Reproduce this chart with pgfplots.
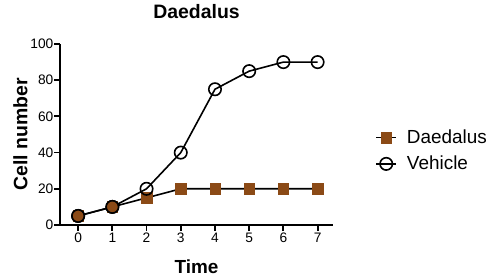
\documentclass[border=0pt]{standalone}
\usepackage{fontspec}
\setmainfont{Liberation Sans}
\usepackage{pgfplots}
\pgfplotsset{compat=1.18}
\definecolor{brn}{RGB}{139,74,22}
\begin{document}
\begin{tikzpicture}
\path[use as bounding box] (0,0) rectangle (492bp,278bp);
\begin{axis}[
  at={(60bp,53bp)}, anchor=south west,
  scale only axis, width=273bp, height=181bp,
  xmin=-0.53, xmax=7.45, ymin=0, ymax=100,
  axis x line*=bottom, axis y line*=left,
  axis line style={line width=2.2bp, -},
  xtick={0,...,7}, ytick={0,20,...,100},
  tick align=outside, major tick length=6bp,
  tick style={line width=1.8bp, black},
  /pgf/number format/assume math mode=true,
  ticklabel style={font=\fontsize{13.8}{15}\selectfont},
  xticklabel style={inner sep=1.5bp},
  yticklabel style={inner sep=0.5bp},
  title={\textbf{Daedalus}},
  title style={font=\fontsize{19.5}{21}\selectfont, anchor=center, at={(0.5,1.145)}},
  xlabel={\textbf{Time}},
  xlabel style={font=\fontsize{19}{20}\selectfont, anchor=center, at={(axis description cs:0.5,-0.23)}},
  ylabel={\textbf{Cell number}},
  ylabel style={font=\fontsize{19.5}{21}\selectfont, anchor=center, at={(axis description cs:-0.145,0.5)}},
  legend style={draw=none, fill=none, at={(1.155,0.41)}, anchor=west,
    font=\fontsize{19}{22}\selectfont, row sep=7bp, inner sep=0pt},
  legend cell align=left,
  legend image code/.code={\draw[#1, mark repeat=2, mark phase=2] plot coordinates {(0cm,0cm) (0.35cm,0cm) (0.7cm,0cm)};
    \path (0.7cm+8bp,0cm);},
  clip=false,
]
\addplot[black, line width=1.6bp, mark=square*, mark size=5.2bp,
  mark options={fill=brn, draw=brn, line width=0.5bp}]
  coordinates {(0,5) (1,10) (2,15) (3,20) (4,20) (5,20) (6,20) (7,20)};
\addlegendentry{Daedalus}
\addplot[black, line width=1.6bp, mark=o, mark size=6.2bp,
  mark options={fill=white, draw=black, line width=1.6bp}]
  coordinates {(0,5) (1,10) (2,20) (3,40) (4,75) (5,85) (6,90) (7,90)};
\addlegendentry{Vehicle}
\addplot[forget plot, only marks, mark=*, mark size=6.2bp,
  mark options={fill=brn, draw=black, line width=1.6bp}]
  coordinates {(0,5) (1,10)};
\end{axis}
\end{tikzpicture}
\end{document}
